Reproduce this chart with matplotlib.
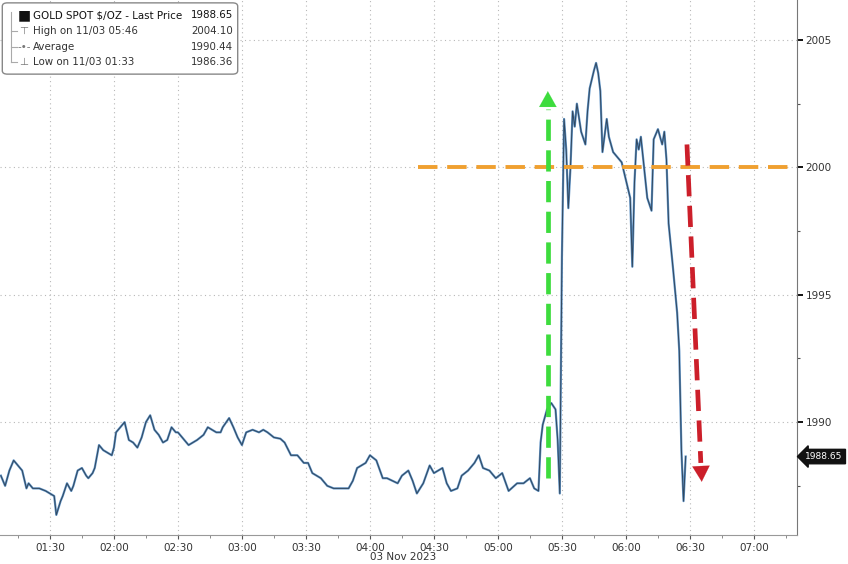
import matplotlib
matplotlib.use("Agg")
import matplotlib.pyplot as plt
from matplotlib.patches import FancyBboxPatch

# minutes after midnight, 03 Nov 2023
minutes = [
    67, 69, 71, 73, 75, 77, 79, 80, 82, 85, 88, 90, 92, 93, 95, 96, 98, 100, 101, 103,
    105, 107, 108, 110, 111, 113, 115, 117, 119, 120, 121, 123, 125, 127, 129, 131, 133, 135, 137, 139,
    141, 143, 145, 147, 149, 150, 152, 155, 157, 159, 162, 164, 166, 168, 170, 171, 174, 176, 178, 180,
    182, 185, 188, 190, 192, 195, 198, 200, 203, 206, 209, 211, 213, 217, 220, 223, 226, 230, 232, 234,
    238, 240, 243, 246, 248, 253, 255, 258, 260, 262, 265, 268, 270, 274, 276, 278, 281, 283, 286, 289,
    291, 293, 296, 299, 302, 305, 309, 312, 315, 317, 319, 320, 321, 323, 325, 327, 328, 329, 330, 331,
    332, 333, 334, 335, 336, 337, 339, 341, 342, 343, 345, 346, 347, 348, 349, 351, 352, 354, 356, 358,
    360, 362, 363, 364, 365, 366, 367, 369, 370, 372, 373, 375, 377, 378, 379, 380, 382, 383, 384, 385,
    386, 387, 388,
]
price = [
    1987.9, 1987.5, 1988.1, 1988.5, 1988.3, 1988.1, 1987.4, 1987.6, 1987.4, 1987.4,
    1987.3, 1987.2, 1987.1, 1986.36, 1986.9, 1987.1, 1987.6, 1987.3, 1987.5, 1988.1,
    1988.2, 1987.9, 1987.8, 1988.0, 1988.2, 1989.1, 1988.9, 1988.8, 1988.7, 1989.0,
    1989.6, 1989.8, 1990.0, 1989.3, 1989.2, 1989.0, 1989.4, 1990.0, 1990.27, 1989.7,
    1989.5, 1989.2, 1989.3, 1989.8, 1989.6, 1989.6, 1989.4, 1989.1, 1989.2, 1989.3,
    1989.5, 1989.8, 1989.7, 1989.6, 1989.6, 1989.8, 1990.16, 1989.8, 1989.4, 1989.1,
    1989.6, 1989.7, 1989.6, 1989.7, 1989.6, 1989.4, 1989.35, 1989.2, 1988.7, 1988.7,
    1988.4, 1988.4, 1988.0, 1987.8, 1987.5, 1987.4, 1987.4, 1987.4, 1987.7, 1988.2,
    1988.4, 1988.7, 1988.5, 1987.8, 1987.8, 1987.6, 1987.9, 1988.1, 1987.7, 1987.2,
    1987.6, 1988.3, 1988.0, 1988.2, 1987.6, 1987.3, 1987.4, 1987.9, 1988.1, 1988.4,
    1988.7, 1988.2, 1988.1, 1987.8, 1988.0, 1987.3, 1987.6, 1987.6, 1987.8, 1987.4,
    1987.3, 1989.2, 1989.9, 1990.5, 1990.75, 1990.5, 1989.3, 1987.2, 1996.5, 2001.9,
    2000.7, 1998.4, 2000.0, 2002.2, 2001.6, 2002.5, 2001.4, 2000.9, 2002.2, 2003.1,
    2003.8, 2004.1, 2003.7, 2003.0, 2000.6, 2001.9, 2001.2, 2000.6, 2000.4, 2000.2,
    1999.5, 1998.8, 1996.1, 1999.4, 2001.1, 2000.7, 2001.2, 1999.6, 1998.8, 1998.3,
    2001.1, 2001.5, 2000.9, 2001.4, 2000.3, 1997.8, 1996.1, 1995.2, 1994.3, 1992.8,
    1988.9, 1986.9, 1988.65,
]

tick_minutes = [90, 120, 150, 180, 210, 240, 270, 300, 330, 360, 390, 420]
tick_labels = ["01:30", "02:00", "02:30", "03:00", "03:30", "04:00",
               "04:30", "05:00", "05:30", "06:00", "06:30", "07:00"]
y_ticks = [1990, 1995, 2000, 2005]

legend_rows = ["GOLD SPOT $/OZ - Last Price", "High on 11/03 05:46", "Average", "Low on 11/03 01:33"]
legend_vals = ["1988.65", "2004.10", "1990.44", "1986.36"]
last_price = 1988.65
level = 2000

fig = plt.figure(figsize=(8.48, 5.64), dpi=100)
ax = fig.add_axes([0.0, 0.0514, 0.9399, 0.9486])

ax.set_xlim(66.6, 440.2)
ax.set_ylim(1985.57, 2006.57)

# grid
for t in tick_minutes:
    ax.axvline(t, color="#b8b8b8", lw=0.8, ls=(0, (1, 3)), zorder=0)
for v in y_ticks:
    ax.axhline(v, color="#b8b8b8", lw=0.8, ls=(0, (1, 3)), zorder=0)

# price line, blue with a dark overlay like the terminal bars
ax.plot(minutes, price, color="#5f93c6", lw=1.6, zorder=3)
ax.plot(minutes, price, color="#1e2833", lw=0.7, alpha=0.7, zorder=4)

# orange 2000 level
ax.plot([262.5, 440.2], [level, level], color="#f0a030", lw=2.8,
        dashes=(5, 2.5), zorder=5, solid_capstyle="butt")

head = dict(arrowstyle="-|>,head_width=0.5,head_length=0.9", lw=0.1, mutation_scale=12.5)

# green dashed up arrow
ax.plot([323.4, 323.4], [1987.8, 2002.3], color="#3ddc3d", lw=3.4, dashes=(4.5, 2), zorder=6)
ax.annotate("", xy=(323.4, 2003.1), xytext=(323.4, 2002.3),
            arrowprops=dict(color="#3ddc3d", **head), zorder=6)

# red dashed down arrow
ax.plot([388.6, 395.1], [2000.9, 1988.4], color="#cc1f2a", lw=3.4, dashes=(4.5, 2), zorder=6)
ax.annotate("", xy=(395.6, 1987.55), xytext=(395.1, 1988.4),
            arrowprops=dict(color="#cc1f2a", **head), zorder=6)

# axes styling
for s in ["left", "top"]:
    ax.spines[s].set_visible(False)
ax.spines["right"].set_color("#777777")
ax.spines["bottom"].set_color("#999999")
ax.yaxis.tick_right()
ax.set_yticks(y_ticks)
ax.set_yticks([1987.5, 1992.5, 1997.5, 2002.5], minor=True)
ax.set_xticks(tick_minutes)
ax.set_xticklabels(tick_labels)
ax.set_xticks([75, 105, 135, 165, 195, 225, 255, 285, 315, 345, 375, 405, 435], minor=True)
ax.tick_params(axis="y", which="major", direction="out", length=4, width=1.4,
               color="#111111", labelsize=7.5, labelcolor="#333333", pad=2)
ax.tick_params(axis="y", which="minor", direction="out", length=2, width=0.8, color="#555555")
ax.tick_params(axis="x", which="major", direction="out", length=3, width=0.8,
               color="#555555", labelsize=7.5, labelcolor="#333333", pad=3)
ax.tick_params(axis="x", which="minor", direction="out", length=2, width=0.6, color="#777777")

fig.text(403 / 848, 1 - 557 / 564, "03 Nov 2023", ha="center", va="center",
         fontsize=7.5, color="#333333")

# last price tag on right axis
ax.annotate(f"{last_price:.2f}", xy=(1.0, last_price), xycoords=("axes fraction", "data"),
            xytext=(6, 0), textcoords="offset points", ha="left", va="center",
            fontsize=6.5, color="white",
            bbox=dict(boxstyle="larrow,pad=0.3", fc="#111111", ec="#111111"))

# legend box top-left
box = FancyBboxPatch((4 / 848, 1 - 73 / 564), 232 / 848, 69 / 564,
                     boxstyle="round,pad=0.002,rounding_size=0.006",
                     transform=fig.transFigure, fc="white", ec="#888888", lw=1.0, zorder=10)
fig.patches.append(box)
row_y = [15, 31, 47, 62]
icons = ["■", "⊤", "-•-", "⊥"]
for i in range(4):
    yy = 1 - row_y[i] / 564
    col = "#111111" if i == 0 else "#333333"
    fig.text(33 / 848, yy, legend_rows[i], ha="left", va="center", fontsize=7.4,
             color=col, zorder=11)
    fig.text(233 / 848, yy, legend_vals[i], ha="right", va="center", fontsize=7.4,
             color=col, zorder=11)
    fig.text(24 / 848, yy, icons[i], ha="center", va="center", fontsize=7.5 if i else 10,
             color="#111111" if i == 0 else "#777777", zorder=11)
fig.lines.append(plt.Line2D([11 / 848, 11 / 848], [1 - 12 / 564, 1 - 62 / 564],
                            transform=fig.transFigure, color="#aaaaaa", lw=0.8, zorder=11))
for i in range(1, 4):
    yy = 1 - row_y[i] / 564
    fig.lines.append(plt.Line2D([11 / 848, 17 / 848], [yy, yy], transform=fig.transFigure,
                                color="#aaaaaa", lw=0.8, zorder=11))

fig.savefig("out.png", dpi=100)
